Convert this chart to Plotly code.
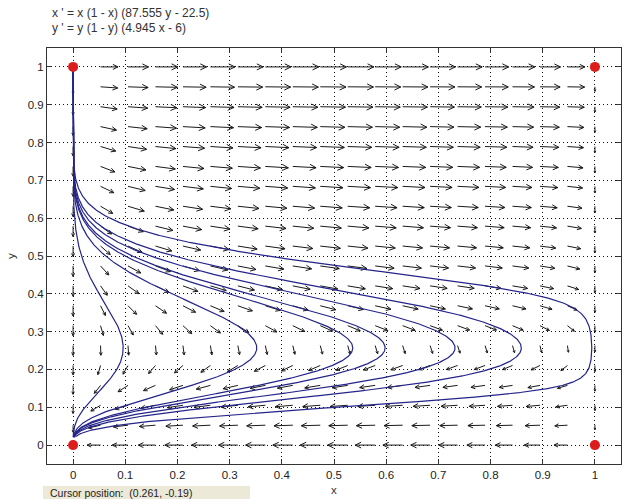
import numpy as np
import plotly.graph_objects as go

# ---- data ----
title_lines = ["x ' = x (1 - x) (87.555 y - 22.5)", "y ' = y (1 - y) (4.945 x - 6)"]
coef_x = [87.555, 22.5]      # x' = x(1-x)(a*y - b)
coef_y = [4.945, 6.0]        # y' = y(1-y)(c*x - d)
tick_vals = [0, 0.1, 0.2, 0.3, 0.4, 0.5, 0.6, 0.7, 0.8, 0.9, 1]
tick_text = ["0", "0.1", "0.2", "0.3", "0.4", "0.5", "0.6", "0.7", "0.8", "0.9", "1"]
equil_x = [0, 0, 1, 1]
equil_y = [0, 1, 0, 1]
# trajectories: x where each solution crosses its turning line (max x)
traj_xmax = [0.096, 0.352, 0.536, 0.598, 0.732, 0.859, 0.994]
traj_yturn = [0.257, 0.257, 0.257, 0.257, 0.257, 0.257, 0.257]
arrow_grid = np.linspace(0, 1, 20)
cursor_text = "Cursor position:  (0.261, -0.19)"

# ---- geometry / style ----
W, H = 622, 499
ML, MR, MT, MB = 47, 1, 48, 35
XR = [-0.05, 1.05]
YR = [-0.05, 1.05]
PX = (W - ML - MR) / (XR[1] - XR[0])
PY = (H - MT - MB) / (YR[1] - YR[0])


def field(x, y):
    vx = x * (1 - x) * (coef_x[0] * y - coef_x[1])
    vy = y * (1 - y) * (coef_y[0] * x - coef_y[1])
    return vx, vy


# ---- direction field arrows ----
ax_x, ax_y = [], []
for gx in arrow_grid:
    for gy in arrow_grid:
        vx, vy = field(gx, gy)
        n = np.hypot(vx, vy)
        if n < 1e-9:
            continue
        L = 0.025 * n ** 0.25
        ux, uy = vx / n, vy / n
        tx, ty = gx + L * ux, gy + L * uy
        dxp, dyp = L * ux * PX, L * uy * PY
        Ls = np.hypot(dxp, dyp)
        h = min(max(0.33 * Ls, 2.0), 7.0)
        bx, by = -dxp / Ls, -dyp / Ls
        ax_x += [gx, tx, None]
        ax_y += [gy, ty, None]
        for ang in (0.45, -0.45):
            c, s = np.cos(ang), np.sin(ang)
            hx = (bx * c - by * s) * h
            hy = (bx * s + by * c) * h
            ax_x += [tx, tx + hx / PX, None]
            ax_y += [ty, ty + hy / PY, None]


# ---- trajectories (integrated along arc length) ----
def direction(p, sgn):
    vx, vy = field(p[0], p[1])
    n = np.hypot(vx, vy)
    if n < 1e-12:
        return np.array([0.0, 0.0])
    return sgn * np.array([vx, vy]) / n


def integrate(p0, sgn, ds=0.0015, nmax=4000):
    pts = [np.array(p0, float)]
    p = np.array(p0, float)
    for _ in range(nmax):
        k1 = direction(p, sgn)
        k2 = direction(p + 0.5 * ds * k1, sgn)
        k3 = direction(p + 0.5 * ds * k2, sgn)
        k4 = direction(p + ds * k3, sgn)
        p = p + ds / 6 * (k1 + 2 * k2 + 2 * k3 + k4)
        pts.append(p.copy())
        if sgn > 0 and p[1] < 0.022:
            break
        if sgn < 0 and p[1] > 0.995:
            break
    return np.array(pts)


tr_x, tr_y = [], []
for x0, y0 in zip(traj_xmax, traj_yturn):
    back = integrate((x0, y0), -1)[::-1]
    fwd = integrate((x0, y0), 1)
    pts = np.vstack([back, fwd[1:]])
    tr_x += list(pts[:, 0]) + [None]
    tr_y += list(pts[:, 1]) + [None]

fig = go.Figure()
fig.add_trace(go.Scatter(x=ax_x, y=ax_y, mode="lines",
                         line=dict(color="#1a1a1a", width=1), hoverinfo="skip"))
fig.add_trace(go.Scatter(x=tr_x, y=tr_y, mode="lines",
                         line=dict(color="#24248a", width=1.2), hoverinfo="skip"))
fig.add_trace(go.Scatter(x=equil_x, y=equil_y, mode="markers",
                         marker=dict(color="#dd1c1c", size=10, line=dict(width=0)),
                         hoverinfo="skip", cliponaxis=False))

axis_common = dict(
    tickvals=tick_vals, ticktext=tick_text, ticks="inside", ticklen=5,
    tickcolor="#333", showline=True, linecolor="#333", linewidth=1,
    mirror="ticks", showgrid=True, gridcolor="#111", gridwidth=1,
    griddash="1px,3px", zeroline=False,
    tickfont=dict(family="Arial, Liberation Sans", size=11.5, color="#222"),
)
fig.update_xaxes(range=XR, **axis_common)
fig.update_yaxes(range=YR, **axis_common)


def px2paper(px, py):
    return (px - ML) / (W - ML - MR), (H - MB - py) / (H - MT - MB)


ann = []
for i, t in enumerate(title_lines):
    x, y = px2paper(50, 13 + 15 * i)
    ann.append(dict(text=t, x=x, y=y, xref="paper", yref="paper", xanchor="left",
                    yanchor="middle", showarrow=False,
                    font=dict(family="Arial, Liberation Sans", size=12, color="#333")))
x, y = px2paper(334, 490)
ann.append(dict(text="x", x=x, y=y, xref="paper", yref="paper", showarrow=False,
                xanchor="center", yanchor="middle",
                font=dict(family="Arial, Liberation Sans", size=11.5, color="#333")))
x, y = px2paper(11, 256)
ann.append(dict(text="y", x=x, y=y, xref="paper", yref="paper", showarrow=False,
                textangle=-90, xanchor="center", yanchor="middle",
                font=dict(family="Arial, Liberation Sans", size=11.5, color="#333")))
x, y = px2paper(48, 493)
ann.append(dict(text=cursor_text, x=x, y=y, xref="paper", yref="paper", showarrow=False,
                xanchor="left", yanchor="middle",
                font=dict(family="Arial, Liberation Sans", size=10.5, color="#222")))

x0p, y0p = px2paper(43, 486)
x1p, y1p = px2paper(250, 505)
fig.update_layout(
    width=W, height=H, margin=dict(l=ML, r=MR, t=MT, b=MB),
    paper_bgcolor="white", plot_bgcolor="white", showlegend=False,
    annotations=ann,
    shapes=[dict(type="rect", xref="paper", yref="paper", x0=x0p, y0=y0p,
                 x1=x1p, y1=y1p, fillcolor="#ece9d8", line=dict(width=0),
                 layer="below")],
)
fig.write_html("out.html",
               config={"displayModeBar": False},
               post_script="document.body.style.margin='0px';"
                           "document.body.style.overflow='hidden';")
